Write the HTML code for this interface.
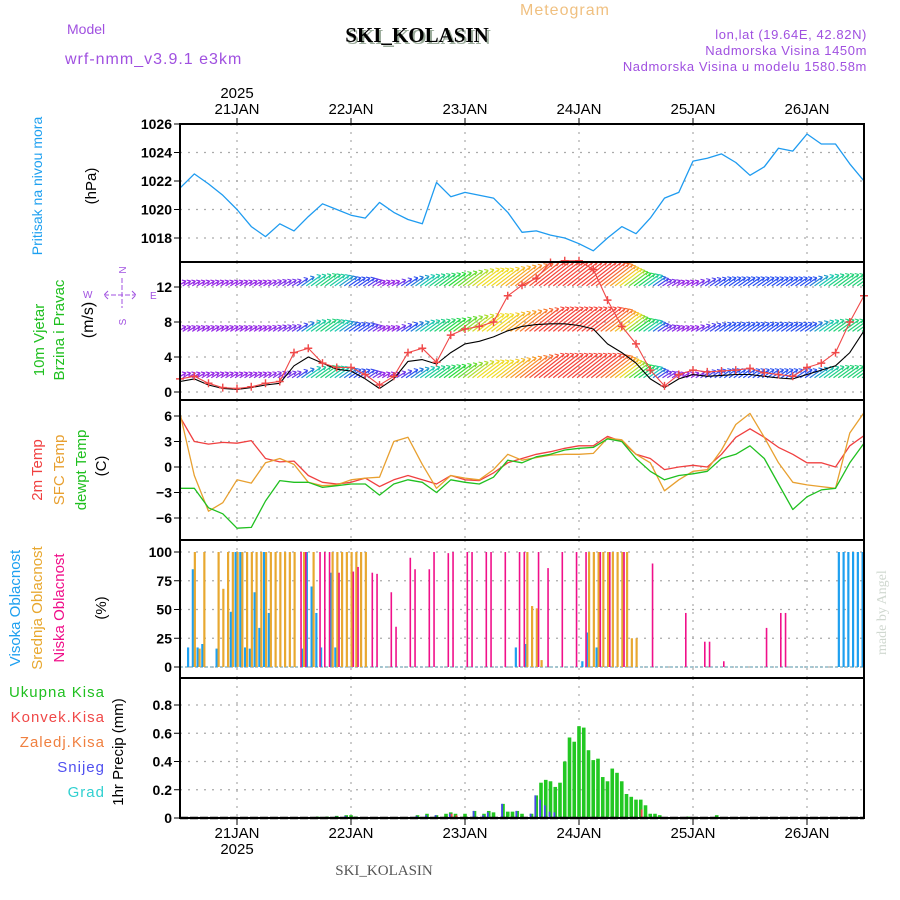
<!DOCTYPE html>
<html><head><meta charset="utf-8"><style>
body{margin:0;background:#fff;}
svg{display:block;font-family:"Liberation Sans",sans-serif;}
</style></head><body>
<svg id="chart" width="900" height="900" viewBox="0 0 900 900" xmlns="http://www.w3.org/2000/svg">
<g id="hdr">
<text x="520" y="15" font-size="16" fill="#f0c080" letter-spacing="1">Meteogram</text>
<text x="67" y="34" font-size="14" fill="#a050e0">Model</text>
<text x="419" y="44" font-size="21" font-weight="bold" text-anchor="middle" fill="#9a9" font-family="Liberation Serif,serif">SKI_KOLASIN</text>
<text x="417" y="42" font-size="21" font-weight="bold" text-anchor="middle" fill="#000" font-family="Liberation Serif,serif">SKI_KOLASIN</text>
<text x="65" y="64" font-size="16" fill="#a050e0" letter-spacing="1">wrf-nmm_v3.9.1 e3km</text>
<text x="867" y="39" font-size="13" fill="#a050e0" text-anchor="end" letter-spacing="0.6">lon,lat (19.64E, 42.82N)</text>
<text x="867" y="55" font-size="13" fill="#a050e0" text-anchor="end" letter-spacing="0.6">Nadmorska Visina 1450m</text>
<text x="867" y="71" font-size="13" fill="#a050e0" text-anchor="end" letter-spacing="0.6">Nadmorska Visina u modelu 1580.58m</text>
<text x="384" y="875" font-size="15" fill="#555" text-anchor="middle" font-family="Liberation Serif,serif">SKI_KOLASIN</text>
<text transform="translate(886,655) rotate(-90)" font-size="14" fill="#d0d8d0" font-family="Liberation Serif,serif">made by Angel</text>
</g>
</svg>
<script>
// ---- data (hours from 20 JAN 12Z; 3-hourly series) ----
const dayLabels=["21JAN","22JAN","23JAN","24JAN","25JAN","26JAN"];
const pressure=[1021.5,1022.5,1021.8,1021.0,1020.0,1018.8,1018.1,1019.0,1018.5,1019.5,1020.4,1020.0,1019.6,1019.4,1020.5,1019.8,1019.3,1019.0,1021.9,1020.9,1021.2,1021.0,1020.8,1019.8,1018.4,1018.5,1018.2,1018.0,1017.6,1017.1,1018.0,1018.8,1018.3,1019.4,1020.8,1021.2,1023.4,1023.6,1023.9,1023.3,1022.4,1023.0,1024.3,1024.1,1025.3,1024.6,1024.6,1023.2,1022.0];
const pressTicks=[1018,1020,1022,1024,1026];
const windSpeed=[1.5,1.8,1.0,0.5,0.4,0.6,1.0,1.2,4.5,5.0,3.3,2.8,2.8,2.0,0.8,1.8,4.5,5.0,3.4,6.5,7.2,7.5,8.0,11.0,12.2,13.0,14.8,15.0,15.0,14.0,10.5,7.5,5.5,2.5,0.7,2.0,2.5,2.3,2.4,2.5,2.7,2.2,2.0,1.8,2.8,3.3,4.5,8.0,11.0];
const windLow=[1.2,1.5,0.8,0.4,0.3,0.5,0.8,1.0,3.0,4.0,3.3,2.6,2.4,1.5,0.4,1.5,3.5,3.7,3.2,4.5,5.5,5.8,6.3,7.0,7.5,7.7,7.8,7.8,7.6,7.2,5.5,4.5,3.3,1.5,0.5,1.5,2.0,1.8,1.9,2.0,2.0,1.8,1.6,1.5,2.0,2.5,3.0,4.5,7.0];
const arrowSpeed=[1.5,1.5,1.5,1.5,1.5,1.5,1.5,1.8,2,4,4.5,4,3,2.8,1.5,1.5,3,4,4.5,5,6,7,7,8,9,10,10,10,10,10,9,7,5,4,2,1.5,1.5,2.5,3,3,3,3,3,3,3,4,4.5,4.5,4.5];
const arrowLevels=[1.8,7.1,12.3];
const windTicks=[0,4,8,12];
const temp2m=[5.9,3.0,2.7,2.9,2.8,3.1,1.0,0.6,0.7,-1.0,-1.8,-2.0,-1.8,-1.3,-2.3,-1.5,-1.0,-1.5,-2.0,-1.0,-1.5,-1.6,-0.7,0.5,1.0,1.5,1.8,2.2,2.5,2.5,3.6,3.0,1.5,1.0,-0.3,0.0,0.2,0.0,1.5,3.5,4.5,3.5,2.3,1.5,0.5,0.5,0.0,2.5,3.7];
const tempSfc=[6.3,-1.0,-5.2,-4.2,-1.5,-1.9,0.5,1.0,0.3,-1.8,-2.2,-2.1,-1.5,-1.3,-1.2,3.0,3.5,0.3,-2.5,-1.0,-1.3,-1.5,-0.3,1.5,0.8,1.1,1.4,1.5,1.5,1.6,3.4,3.2,1.5,0.5,-2.8,-1.5,-0.5,-0.3,2.0,5.0,6.3,3.5,0.5,-1.8,-2.1,-2.3,-2.5,4.0,6.4];
const tempDew=[-2.5,-2.5,-4.8,-5.5,-7.2,-7.1,-4.0,-1.6,-1.8,-1.8,-2.4,-2.2,-2.0,-2.0,-3.3,-2.0,-1.5,-1.8,-3.0,-1.5,-1.8,-2.0,-1.2,0.8,0.5,1.2,1.5,2.0,2.2,2.3,3.3,3.0,1.0,-0.5,-1.5,-1.0,-0.8,-0.5,1.0,1.5,2.5,1.0,-2.0,-5.0,-3.5,-2.7,-2.5,0.5,2.8];
const tempTicks=[-6,-3,0,3,6];
// clouds: hour, value pairs
const cloudHighHours=[2,3,4,5,8,11,12,13,14,15,16,17,18,19,26,27,28,29,30,32,33,71,73,85,86,88,139,140,141,142,143,144];
const cloudHigh=[17,85,17,20,16,48,100,100,17,16,65,34,100,47,16,100,70,47,17,82,17,17,20,5,30,17,100,100,100,100,100,100];
const cloudMidHours=[3,4,5,8,9,10,11,12,13,14,15,16,17,18,19,20,21,22,23,24,26,28,32,33,34,35,36,37,38,39,73,74,75,76,86,87,88,89,90,91,92,93,94,95,96];
const cloudMid=[100,16,100,100,68,100,100,100,100,100,100,100,100,100,100,100,100,100,100,100,100,100,100,100,100,100,100,100,100,100,100,53,51,6,100,100,100,100,100,100,100,100,100,25,25];
const cloudLowHours=[25,26,29,30,31,33,36,37,40,41,44,45,48,49,52,53,56,57,60,61,64,65,68,71,72,75,77,80,83,85,88,90,93,99,106,110,111,114,123,126,127];
const cloudLow=[100,100,100,100,100,82,83,87,82,81,65,35,95,85,85,100,99,100,100,100,100,100,100,100,100,100,86,100,100,100,100,100,100,90,47,22,22,5,34,47,47];
const cloudTicks=[0,25,50,75,100];
// precipitation (mm/h)
const precipHours=[29,31,33,35,36,37,50,52,54,56,57,58,60,62,64,65,66,68,69,70,71,72,74,75,76,77,78,79,80,81,82,83,84,85,86,87,88,89,90,91,92,93,94,95,96,97,98,99,100,101,107,113];
const precipTotal=[0.01,0.01,0.015,0.02,0.02,0.01,0.02,0.03,0.02,0.03,0.04,0.03,0.03,0.05,0.03,0.05,0.04,0.1,0.045,0.045,0.05,0.03,0.03,0.16,0.25,0.27,0.26,0.22,0.25,0.40,0.57,0.54,0.65,0.64,0.48,0.41,0.42,0.29,0.26,0.35,0.32,0.26,0.17,0.15,0.13,0.13,0.09,0.03,0.03,0.02,0.01,0.02];
const snowHours=[33,35,50,52,54,57,62,64,65,68,71,74,75,76,77,78,79];
const snow=[0.01,0.015,0.015,0.02,0.02,0.03,0.05,0.02,0.04,0.1,0.05,0.03,0.16,0.13,0.09,0.045,0.04];
const convHours=[57,58,97];
const conv=[0.03,0.02,0.06];
const precipTicks=[0,0.2,0.4,0.6,0.8];

// ---- layout ----
const svg=document.getElementById('chart');
const NS='http://www.w3.org/2000/svg';
const X0=180,X1=864,HOURS=144;
const xs=h=>X0+(X1-X0)*h/HOURS;
const panels={
 press:{top:124,bot:262,y:v=>124+(1026-v)*14.25},
 wind:{top:262,bot:400,y:v=>392-v*8.75},
 temp:{top:400,bot:540,y:v=>467-v*8.5},
 cloud:{top:540,bot:678,y:v=>667-v*1.15},
 precip:{top:678,bot:818,y:v=>818-v*141.25}
};
function el(tag,attrs,parent){const e=document.createElementNS(NS,tag);for(const k in attrs)e.setAttribute(k,attrs[k]);(parent||svg).appendChild(e);return e;}
function txt(s,attrs,parent){const e=el('text',attrs,parent);e.textContent=s;return e;}

function drawPanel(key,ticks,fmt){
 const p=panels[key];
 const g=el('g',{});
 
 
 for(let d=0;d<6;d++){const x=xs(12+24*d);
  const l=el('line',{x1:x,x2:x,y1:p.top,y2:p.bot,stroke:'#aaa','stroke-width':1.2,'stroke-dasharray':'2,6'},g);
  
  }
 ticks.forEach(t=>{const y=p.y(t);
  const l=el('line',{x1:X0,x2:X1,y1:y,y2:y,stroke:'#aaa','stroke-width':1.2,'stroke-dasharray':'2,6'},g);
  
  
  el('line',{x1:X0-6,x2:X0,y1:y,y2:y,stroke:'#000','stroke-width':1},g);
  const tl=txt(fmt(t),{x:X0-8,y:y+5,'font-size':14,'font-weight':'bold','text-anchor':'end',fill:'#000'},g);
  
  });
 return g;
}
drawPanel('press',pressTicks,t=>t);
drawPanel('wind',windTicks,t=>t);
drawPanel('temp',tempTicks,t=>t<0?'\u2212'+(-t):t);
drawPanel('cloud',cloudTicks,t=>t);
drawPanel('precip',precipTicks,t=>t===0?'0':t.toFixed(1));

function line(arr,key,color,name,w){
 const p=panels[key];
 const pts=arr.map((v,i)=>xs(i*3).toFixed(1)+','+p.y(v).toFixed(1)).join(' ');
 const e=el('polyline',{points:pts,fill:'none',stroke:color,'stroke-width':w||1.3,'stroke-linejoin':'round'});
 
 
 return e;
}
line(pressure,'press','#1e9bf0','pressure-line');

// wind arrows
const clip=el('clipPath',{id:'wclip'});el('rect',{x:X0,y:262,width:X1-X0,height:138},clip);
const wg=el('g',{'clip-path':'url(#wclip)'});


function spdColor(s){const stops=[[1.5,[150,40,230]],[3,[40,80,240]],[4,[30,200,180]],[5,[40,220,60]],[7,[240,220,40]],[8.5,[250,150,40]],[10,[245,70,60]]];
 if(s<=stops[0][0])return 'rgb('+stops[0][1]+')';
 for(let i=1;i<stops.length;i++){if(s<=stops[i][0]){const a=stops[i-1],b=stops[i],t=(s-a[0])/(b[0]-a[0]);return 'rgb('+a[1].map((c,j)=>Math.round(c+(b[1][j]-c)*t))+')';}}
 return 'rgb('+stops[stops.length-1][1]+')';}
arrowLevels.forEach(lv=>{const yb=panels.wind.y(lv);
 for(let i=0;i<arrowSpeed.length;i++){
  for(let k=0;k<3;k++){
   const h=i*3+k; if(h>HOURS)break;
   const s=i<arrowSpeed.length-1?arrowSpeed[i]+(arrowSpeed[i+1]-arrowSpeed[i])*k/3:arrowSpeed[i];
   const x=xs(h),dx=s*2.6+2,dy=s*2.2,c=spdColor(s);
   el('line',{x1:x-2,y1:yb+1.5,x2:x+dx,y2:yb-dy,stroke:c,'stroke-width':1.2},wg);
   el('path',{d:`M${x+dx} ${yb-dy} l-4 -1 M${x+dx} ${yb-dy} l-2 3`,stroke:c,'stroke-width':1.1,fill:'none'},wg);
  }}});
line(windLow,'wind','#000','wind-low-line',1.1);
line(windSpeed,'wind','#f04848','wind-speed-line',1.1);
const mg=el('g',{});


windSpeed.forEach((v,i)=>{const x=xs(i*3),y=panels.wind.y(v);
 el('path',{d:`M${x-4} ${y}h8M${x} ${y-4}v8`,stroke:'#f04848','stroke-width':1.4},mg);});

line(temp2m,'temp','#f04040','temp-2m-line');
line(tempSfc,'temp','#e8a030','temp-sfc-line');
line(tempDew,'temp','#20c020','dewpoint-line');

function bars(hours,vals,key,color,off,w,name){
 const p=panels[key];const g=el('g',{});
 
 
 hours.forEach((h,i)=>{const y=p.y(vals[i]);
  el('rect',{x:xs(h)+off,y:y,width:w,height:Math.max(0,p.y(0)-y),fill:color},g);});
}
el('line',{x1:X0,x2:X1,y1:panels.cloud.y(0),y2:panels.cloud.y(0),stroke:'#7ab',"stroke-width":1.2,'stroke-dasharray':'3,2'});
bars(cloudHighHours,cloudHigh,'cloud','#1ea0f0',-2.5,2.2,'cloud-high-bars');
bars(cloudMidHours,cloudMid,'cloud','#e8a830',-0.5,2.2,'cloud-mid-bars');
bars(cloudLowHours,cloudLow,'cloud','#f0108a',1.5,1.6,'cloud-low-bars');

bars(precipHours,precipTotal,'precip','#22c822',-1.8,3.6,'precip-total-bars');
bars(snowHours,snow,'precip','#4848f0',-1.8,1.8,'snow-bars');
bars(convHours,conv,'precip','#f04848',0,1.8,'convective-bars');
el('line',{x1:X0,x2:X1,y1:818,y2:818,stroke:'#000','stroke-width':2.5,'stroke-dasharray':'8,2'});

[['press',124,262],['wind',262,400],['temp',400,540],['cloud',540,678],['precip',678,818]].forEach(([k,t,b])=>{
 const r=el('rect',{x:X0,y:t,width:X1-X0,height:b-t,fill:'none',stroke:'#000','stroke-width':2});
 
 });

dayLabels.forEach((d,i)=>{const x=xs(12+24*i);
 const a=txt(d,{x:x,y:114,'font-size':15,'text-anchor':'middle',fill:'#000'});
 
 
 const b=txt(d,{x:x,y:838,'font-size':15,'text-anchor':'middle',fill:'#000'});
 
 
 el('line',{x1:x,x2:x,y1:118,y2:124,stroke:'#000'});
 el('line',{x1:x,x2:x,y1:818,y2:825,stroke:'#000'});});
txt('2025',{x:xs(12),y:98,'font-size':15,'text-anchor':'middle',fill:'#000'});
txt('2025',{x:xs(12),y:854,'font-size':15,'text-anchor':'middle',fill:'#000'});

function vt(s,x,y,color,size){const e=txt(s,{transform:`translate(${x},${y}) rotate(-90)`,'font-size':size||14,'text-anchor':'middle',fill:color});
 
 return e;}
vt('Pritisak na nivou mora',42,186,'#1ea0f0');
vt('(hPa)',96,186,'#000',15);
vt('10m Vjetar',44,340,'#20c020',15);
vt('Brzina i Pravac',64,330,'#20c020',15);
vt('(m/s)',93,320,'#000',16);
const cg=el('g',{fill:'#a050e0','font-size':10,stroke:'none'});


txt('N',{transform:'translate(126,270) rotate(-90)','text-anchor':'middle',fill:'#a050e0','font-size':10},cg);
txt('W',{x:83,y:298,'font-size':10},cg);
txt('E',{x:150,y:299,'font-size':10},cg);
txt('S',{transform:'translate(126,322) rotate(-90)','text-anchor':'middle',fill:'#a050e0','font-size':10},cg);
el('path',{d:'M104 295h32M122 278v30M108 291l-4 4 4 4M132 291l4 4-4 4',stroke:'#a050e0','stroke-width':1,fill:'none','stroke-dasharray':'5,2'},cg);
vt('2m Temp',42,470,'#f04040',15);
vt('SFC Temp',64,470,'#e8a030',15);
vt('dewpt Temp',86,470,'#20c020',15);
vt('(C)',106,466,'#000',15);
vt('Visoka Oblacnost',20,608,'#1ea0f0',15);
vt('Srednja Oblacnost',42,608,'#e8a830',15);
vt('Niska Oblacnost',64,608,'#f0108a',15);
vt('(%)',106,608,'#000',15);
[['Ukupna Kisa','#20c020',697],['Konvek.Kisa','#f04848',722],['Zaledj.Kisa','#f08040',747],['Snijeg','#5050f0',772],['Grad','#30d0d0',797]].forEach(([s,c,y])=>{
 const e=txt(s,{x:105,y:y,'font-size':15,'text-anchor':'end',fill:c,'letter-spacing':1});
 
 });
vt('1hr Precip (mm)',123,752,'#000',15);
</script>
</body></html>
